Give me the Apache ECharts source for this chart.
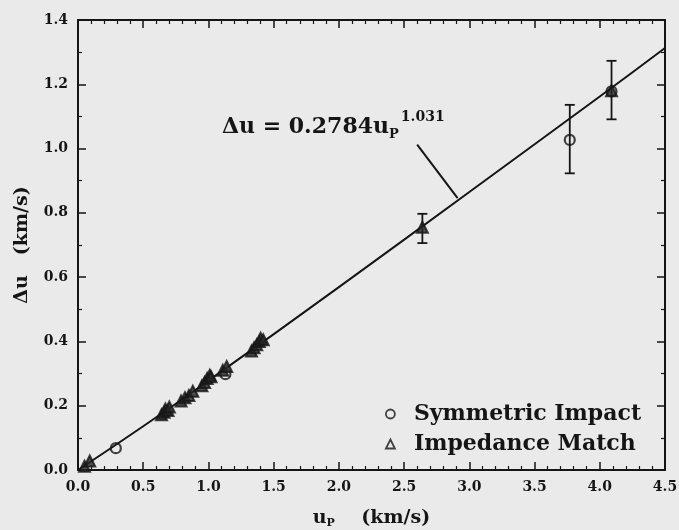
<!DOCTYPE html>
<html>
<head>
<meta charset="utf-8">
<script src="https://cdn.jsdelivr.net/npm/echarts@6/dist/echarts.min.js"></script>
<style>
html,body{margin:0;padding:0;background:#eaeaea;}
#c{width:679px;height:530px;}
</style>
</head>
<body>
<div id="c"></div>
<script>
// ---- data ----
const symmetricImpact = [[0.29,0.068],[1.13,0.298],[3.77,1.027],[4.09,1.178]];
const impedanceMatch = [
  [0.05,0.012],[0.09,0.028],
  [0.64,0.172],[0.66,0.180],[0.67,0.190],[0.69,0.185],[0.70,0.196],
  [0.79,0.215],[0.82,0.225],[0.85,0.232],[0.88,0.245],
  [0.95,0.262],[0.97,0.272],[0.99,0.285],[1.01,0.295],[1.02,0.290],
  [1.11,0.310],[1.14,0.322],
  [1.33,0.370],[1.35,0.380],[1.37,0.390],[1.39,0.400],[1.40,0.410],[1.42,0.405],
  [2.64,0.755],[4.09,1.180]
];
const errorBars = [[2.64,0.706,0.797],[3.77,0.923,1.136],[4.09,1.091,1.273]]; // [up, low, high]
const fitCurve = [[0,0],[0.5,0.136],[1,0.278],[2,0.569],[3,0.865],[4,1.162],[4.5,1.313]];
const leader = [[2.91,0.846],[2.60,1.012]];
const xMin = 0, xMax = 4.5, xStep = 0.5;
const yMin = 0, yMax = 1.4, yStep = 0.2;

const FONT = '"DejaVu Serif"';
const INK = '#151515';

const chart = echarts.init(document.getElementById('c'), null, {renderer:'canvas'});

function axisBase(extra){
  return Object.assign({
    type:'value',
    axisLine:{show:true,onZero:false,lineStyle:{color:INK,width:2}},
    splitLine:{show:false},
    axisTick:{show:true,inside:true,length:8,lineStyle:{color:INK,width:1.5}},
    minorTick:{show:true,length:4,lineStyle:{color:INK,width:1.2}},
    minorSplitLine:{show:false}
  }, extra);
}
const labelStyle = {show:true,margin:10,color:INK,fontFamily:FONT,fontWeight:'bold',fontSize:14,
  formatter:v=>v.toFixed(1)};

chart.setOption({
  backgroundColor:'#eaeaea',
  animation:false,
  grid:{left:78,right:14,top:20,bottom:60,containLabel:false,outerBoundsMode:'none'},
  xAxis:[
    axisBase({min:xMin,max:xMax,interval:xStep,position:'bottom',
      minorTick:{show:true,splitNumber:5,length:4,lineStyle:{color:INK,width:1.2}},
      axisLabel:labelStyle,
      name:'{u|u}{p|P}    (km/s)', nameLocation:'middle', nameGap:38,
      nameTextStyle:{color:INK,fontFamily:FONT,fontWeight:'bold',fontSize:19,
        rich:{u:{fontFamily:FONT,fontWeight:'bold',fontSize:19,color:INK},
              p:{fontFamily:FONT,fontWeight:'bold',fontSize:11,color:INK,padding:[10,0,0,0]}}}
    }),
    axisBase({min:xMin,max:xMax,interval:xStep,position:'top',
      minorTick:{show:true,splitNumber:5,length:4,lineStyle:{color:INK,width:1.2}},
      axisLabel:{show:false}})
  ],
  yAxis:[
    axisBase({min:yMin,max:yMax,interval:yStep,position:'left',
      minorTick:{show:true,splitNumber:2,length:4,lineStyle:{color:INK,width:1.2}},
      axisLabel:labelStyle,
      name:'Δu   (km/s)', nameLocation:'middle', nameGap:46, nameRotate:90,
      nameTextStyle:{color:INK,fontFamily:FONT,fontWeight:'bold',fontSize:19}
    }),
    axisBase({min:yMin,max:yMax,interval:yStep,position:'right',
      minorTick:{show:true,splitNumber:2,length:4,lineStyle:{color:INK,width:1.2}},
      axisLabel:{show:false}})
  ],
  legend:{
    orient:'vertical', left:380, top:398, itemGap:8, itemWidth:9, itemHeight:9,
    textStyle:{color:INK,fontFamily:FONT,fontWeight:'bold',fontSize:22,padding:[0,0,0,14]},
    data:[
      {name:'Symmetric Impact',icon:'circle',itemStyle:{color:'rgba(0,0,0,0)',borderColor:INK,borderWidth:1.8}},
      {name:'Impedance Match',icon:'triangle',itemStyle:{color:'rgba(0,0,0,0)',borderColor:INK,borderWidth:1.8}}
    ]
  },
  series:[
    {
      name:'fit', type:'line', data:fitCurve, smooth:true, showSymbol:false, silent:true,
      lineStyle:{color:INK,width:2}, z:2,
      markLine:{silent:true,symbol:['none','none'],label:{show:false},
        lineStyle:{color:INK,width:2,type:'solid'},
        data:[[{coord:leader[0]},{coord:leader[1]}]]}
    },
    {
      name:'errors', type:'custom', data:errorBars, silent:true, z:3,
      renderItem:function(params, api){
        const x=api.value(0), lo=api.value(1), hi=api.value(2);
        const a=api.coord([x,hi]), b=api.coord([x,lo]);
        const w=5;
        const st={stroke:INK,lineWidth:1.8};
        return {type:'group',children:[
          {type:'line',shape:{x1:a[0],y1:a[1],x2:b[0],y2:b[1]},style:st},
          {type:'line',shape:{x1:a[0]-w,y1:a[1],x2:a[0]+w,y2:a[1]},style:st},
          {type:'line',shape:{x1:b[0]-w,y1:b[1],x2:b[0]+w,y2:b[1]},style:st}
        ]};
      }
    },
    {
      name:'Symmetric Impact', type:'scatter', data:symmetricImpact, symbol:'circle', symbolSize:10, z:4,
      itemStyle:{color:'rgba(0,0,0,0)',borderColor:INK,borderWidth:2.2}
    },
    {
      name:'Impedance Match', type:'scatter', data:impedanceMatch, symbol:'triangle', symbolSize:11, z:5,
      itemStyle:{color:'#262626',borderColor:INK,borderWidth:2}
    }
  ],
  graphic:[
    {type:'text', left:222, top:110, style:{
      text:'{m|Δu = 0.2784u}{s|P}{e|1.031}',
      rich:{
        m:{fontFamily:FONT,fontWeight:'bold',fontSize:22,fill:INK},
        s:{fontFamily:FONT,fontWeight:'bold',fontSize:13,fill:INK,padding:[16,0,0,0]},
        e:{fontFamily:FONT,fontWeight:'bold',fontSize:14,fill:INK,padding:[0,0,20,2]}
      }
    }}
  ]
});
</script>
</body>
</html>
